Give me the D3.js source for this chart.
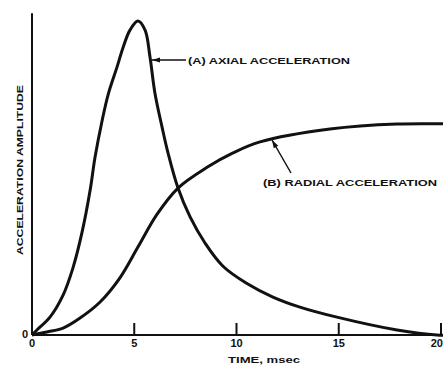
<!DOCTYPE html>
<html><head><meta charset="utf-8">
<script src="https://cdn.jsdelivr.net/npm/d3@7"></script>
<style>
html,body{margin:0;padding:0;background:#fff;}
svg{display:block;}
text{font-family:"Liberation Sans",Arial,sans-serif;font-weight:bold;fill:#111;}
</style></head>
<body>
<script>
const axialT = [0, 0.24, 0.88, 1.52, 2.00, 2.44, 2.84, 3.08, 3.42, 3.72, 4.16, 4.45, 4.79, 5.18, 5.53, 5.77, 6.01, 6.36, 6.65, 7.14, 7.73, 8.46, 9.34, 10.51, 11.78, 13.1, 14.91, 17.85, 19.8, 20.6];
const axialV = [0, 1.6, 5.7, 12.7, 21.3, 32.5, 46.0, 56.5, 68.0, 76.5, 85.4, 91.5, 97.1, 100, 97.1, 88.5, 77.1, 66.2, 58.0, 46.8, 37.6, 29.3, 21.9, 16.4, 12.1, 8.9, 5.7, 1.6, 0, 0];
const radialT = [0, 0.73, 1.52, 2.35, 3.33, 4.30, 5.18, 6.11, 7.14, 8.56, 9.83, 11.15, 14.57, 17.85, 20.6];
const radialV = [0, 0.96, 2.2, 5.4, 10.5, 18.2, 28.0, 38.4, 46.8, 53.4, 58.0, 61.5, 65.6, 67.2, 67.2];
const xTicks = [5, 10, 15, 20];
const xTickLabels = ["0", "5", "10", "15", "20"];
const xTickLabelValues = [0, 5, 10, 15, 20];
const xTitle = "TIME, msec";
const yTitle = "ACCELERATION  AMPLITUDE";
const labelA = "(A) AXIAL  ACCELERATION";
const labelB = "(B) RADIAL  ACCELERATION";

const W = 443, H = 365;
const svg = d3.select("body").append("svg").attr("width", W).attr("height", H);
const x = d3.scaleLinear().domain([0, 20]).range([32, 441]);
const y = d3.scaleLinear().domain([0, 100]).range([335, 21]);

// axes
svg.append("line").attr("x1", x(0)).attr("x2", W).attr("y1", y(0)).attr("y2", y(0))
  .attr("stroke", "#111").attr("stroke-width", 2);
svg.append("line").attr("x1", x(0)).attr("x2", x(0)).attr("y1", y(0)).attr("y2", y(102.5))
  .attr("stroke", "#111").attr("stroke-width", 2);
svg.selectAll(".tick").data(xTicks).enter().append("line")
  .attr("x1", d => x(d)).attr("x2", d => x(d)).attr("y1", y(0)).attr("y2", y(0) - 12)
  .attr("stroke", "#111").attr("stroke-width", 2);
svg.selectAll(".tl").data(xTickLabelValues).enter().append("text")
  .attr("x", d => d === 20 ? W : x(d)).attr("y", 347)
  .attr("text-anchor", d => d === 20 ? "end" : "middle")
  .attr("font-size", 11).text((d, i) => xTickLabels[i]);
svg.append("text").attr("x", 25).attr("y", 338).attr("text-anchor", "middle")
  .attr("font-size", 11).text("0");
svg.append("text").attr("x", 264).attr("y", 363).attr("text-anchor", "middle")
  .attr("font-size", 9).attr("textLength", 72).attr("lengthAdjust", "spacingAndGlyphs").text(xTitle);
svg.append("text").attr("transform", "translate(23,170) rotate(-90)").attr("text-anchor", "middle")
  .attr("font-size", 9).attr("textLength", 170).attr("lengthAdjust", "spacingAndGlyphs").text(yTitle);

// curves
const line = d3.line().x(d => x(d[0])).y(d => y(d[1])).curve(d3.curveCatmullRom.alpha(0.5));
const axial = axialT.map((t, i) => [t, axialV[i]]);
const radial = radialT.map((t, i) => [t, radialV[i]]);
svg.append("path").attr("d", line(axial)).attr("fill", "none").attr("stroke", "#111").attr("stroke-width", 3).attr("stroke-linejoin", "round");
svg.append("path").attr("d", line(radial)).attr("fill", "none").attr("stroke", "#111").attr("stroke-width", 3).attr("stroke-linejoin", "round");

// annotations
function arrow(x1, y1, x2, y2) {
  svg.append("line").attr("x1", x1).attr("y1", y1).attr("x2", x2).attr("y2", y2)
    .attr("stroke", "#111").attr("stroke-width", 1.5);
  const a = Math.atan2(y2 - y1, x2 - x1), L = 8, w = 2.6;
  const bx = x2 - L * Math.cos(a), by = y2 - L * Math.sin(a);
  const px = -Math.sin(a) * w, py = Math.cos(a) * w;
  svg.append("path").attr("d", `M${x2},${y2}L${bx + px},${by + py}L${bx - px},${by - py}Z`).attr("fill", "#111");
}
arrow(186, 60, 152, 60);
svg.append("text").attr("x", 188).attr("y", 64).attr("font-size", 9)
  .attr("textLength", 162).attr("lengthAdjust", "spacingAndGlyphs").text(labelA);
arrow(291, 173, 272, 140);
svg.append("text").attr("x", 263).attr("y", 186).attr("font-size", 9)
  .attr("textLength", 174).attr("lengthAdjust", "spacingAndGlyphs").text(labelB);
</script>
</body></html>
